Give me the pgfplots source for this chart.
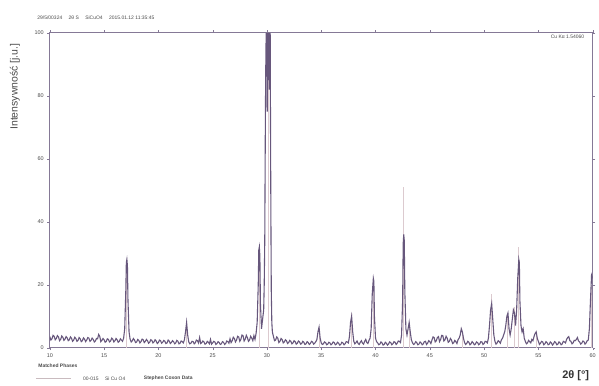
\documentclass[border=0pt]{standalone}
\usepackage{pgfplots}
\pgfplotsset{compat=1.18}
\usepackage{fontspec}
\setmainfont{Liberation Sans}
\definecolor{xrd}{HTML}{67577C}
\definecolor{stick}{HTML}{DCCACF}
\definecolor{txt}{HTML}{4A4A4A}
\begin{document}
\begin{tikzpicture}[x=1pt,y=1pt]
\path (0,0) rectangle (599,387);
\begin{axis}[
  at={(50pt,38pt)}, anchor=south west,
  scale only axis, width=545pt, height=316pt,
  xmin=10, xmax=60, ymin=0, ymax=100,
  xtick={10,15,...,60}, ytick={0,20,...,100},
  tick align=outside, major tick length=2.5pt,
  axis line style={xrd!80, line width=0.8pt},
  tick style={xrd!80},
  /pgf/number format/assume math mode=true,
  ticklabel style={font=\fontsize{5.5}{6}\selectfont, text=txt},
  clip=true,
]
\addplot[ycomb, stick, line width=1pt, forget plot] coordinates {
(17.1,27) (22.6,7) (29.3,30) (30.1,100) (30.15,100) (34.8,5) (37.8,11) (39.8,21)
(42.6,51) (43.1,8) (48.0,5) (50.7,17) (52.2,10) (52.8,13) (53.2,32) (54.8,5) (59.9,20)
};
\addplot[xrd, line width=1.1pt] coordinates {
(10.0,3.5) (10.1,2.4) (10.2,2.8) (10.3,3.9) (10.4,3.6) (10.5,2.5) (10.6,2.9) (10.7,3.8) (10.8,3.4) (10.9,2.2)
(11.0,2.6) (11.1,3.7) (11.2,3.3) (11.3,2.3) (11.4,2.7) (11.5,3.5) (11.6,3.1) (11.7,2.2) (11.8,2.5) (11.9,3.4)
(12.0,3.0) (12.1,2.0) (12.2,2.4) (12.3,3.3) (12.4,2.9) (12.5,2.0) (12.6,2.3) (12.7,3.2) (12.8,2.8) (12.9,1.9)
(13.0,2.2) (13.1,3.1) (13.2,2.7) (13.3,1.9) (13.4,2.4) (13.5,3.2) (13.6,3.0) (13.7,2.0) (13.8,2.3) (13.9,3.0)
(14.0,2.6) (14.1,1.8) (14.2,2.1) (14.3,2.9) (14.4,2.8) (14.5,4.2) (14.6,3.6) (14.7,1.9) (14.8,2.3) (14.9,2.9)
(15.0,2.5) (15.1,1.7) (15.2,2.0) (15.3,2.8) (15.4,2.6) (15.5,1.8) (15.6,2.1) (15.7,3.0) (15.8,2.7) (15.9,1.8)
(16.0,2.2) (16.1,2.9) (16.2,2.5) (16.3,1.7) (16.4,2.0) (16.5,2.8) (16.6,2.4) (16.7,2.0) (16.8,3.0)
(16.9,6) (17.0,18) (17.05,27) (17.1,28) (17.15,26) (17.2,15) (17.3,5)
(17.4,2.6) (17.5,1.8) (17.6,2.2) (17.7,2.9) (17.8,2.4) (17.9,1.6) (18.0,1.8) (18.1,2.6) (18.2,2.3) (18.3,1.5)
(18.4,1.9) (18.5,2.7) (18.6,2.5) (18.7,1.6) (18.8,2.0) (18.9,2.6) (19.0,2.2) (19.1,1.4) (19.2,1.7) (19.3,2.5)
(19.4,2.3) (19.5,1.5) (19.6,1.8) (19.7,2.5) (19.8,2.1) (19.9,1.3) (20.0,1.6) (20.1,2.4) (20.2,2.2) (20.3,1.4)
(20.4,1.7) (20.5,2.3) (20.6,2.0) (20.7,1.3) (20.8,1.5) (20.9,2.4) (21.0,2.1) (21.1,1.3) (21.2,1.6) (21.3,2.2)
(21.4,1.9) (21.5,1.2) (21.6,1.5) (21.7,2.3) (21.8,2.0) (21.9,1.2) (22.0,1.4) (22.1,2.1) (22.2,1.9) (22.3,1.5)
(22.4,2.5) (22.5,5) (22.6,8) (22.7,4) (22.8,1.8) (22.9,1.2)
(23.0,1.4) (23.1,2.0) (23.2,1.9) (23.3,1.2) (23.4,1.5) (23.5,2.4) (23.6,2.2) (23.7,1.5) (23.8,3.2) (23.9,1.3)
(24.0,1.6) (24.1,2.1) (24.2,1.8) (24.3,1.1) (24.4,1.3) (24.5,2.0) (24.6,1.7) (24.7,1.2) (24.8,2.6) (24.9,1.1)
(25.0,1.5) (25.1,2.0) (25.2,1.8) (25.3,1.0) (25.4,1.3) (25.5,1.9) (25.6,1.6) (25.7,1.0) (25.8,1.2) (25.9,1.9)
(26.0,1.7) (26.1,1.0) (26.2,1.3) (26.3,2.1) (26.4,1.9) (26.5,1.4) (26.6,2.8) (26.7,1.6) (26.8,2.2) (26.9,3.3)
(27.0,2.9) (27.1,1.8) (27.2,2.4) (27.3,3.6) (27.4,3.4) (27.5,2.0) (27.6,2.6) (27.7,4.0) (27.8,3.8) (27.9,2.1)
(28.0,2.7) (28.1,3.9) (28.2,3.2) (28.3,2.0) (28.4,2.4) (28.5,3.6) (28.6,3.0) (28.7,2.2) (28.8,3.8) (28.9,2.6)
(29.0,4.5) (29.1,8) (29.2,20) (29.25,31) (29.3,32) (29.35,29) (29.4,14) (29.5,6) (29.6,9) (29.7,12)
(29.75,20) (29.8,34) (29.83,55) (29.86,75) (29.9,92) (29.93,100) (29.96,88) (30.0,100) (30.03,75) (30.06,100)
(30.09,85) (30.12,100) (30.15,90) (30.18,100) (30.21,82) (30.24,100) (30.27,94) (30.3,100) (30.33,70) (30.36,45)
(30.4,18) (30.45,8) (30.5,5)
(30.6,3.5) (30.7,2.2) (30.8,2.4) (30.9,3.4) (31.0,3.0) (31.1,1.6) (31.2,2.0) (31.3,2.9) (31.4,2.6) (31.5,1.5)
(31.6,1.8) (31.7,2.5) (31.8,2.2) (31.9,1.3) (32.0,1.6) (32.1,2.3) (32.2,2.0) (32.3,1.2) (32.4,1.5) (32.5,2.2)
(32.6,1.9) (32.7,1.1) (32.8,1.4) (32.9,2.1) (33.0,1.8) (33.1,1.1) (33.2,1.3) (33.3,2.0) (33.4,1.7) (33.5,1.0)
(33.6,1.2) (33.7,1.9) (33.8,1.6) (33.9,1.0) (34.0,1.3) (34.1,2.0) (34.2,1.8) (34.3,1.1) (34.4,1.4) (34.5,1.9)
(34.6,2.5) (34.7,5) (34.8,6.5) (34.9,3)
(35.0,1.5) (35.1,1.0) (35.2,1.2) (35.3,1.8) (35.4,1.6) (35.5,0.9) (35.6,1.1) (35.7,1.7) (35.8,1.5) (35.9,0.9)
(36.0,1.2) (36.1,1.8) (36.2,1.6) (36.3,0.9) (36.4,1.1) (36.5,1.7) (36.6,1.4) (36.7,0.8) (36.8,1.0) (36.9,1.7)
(37.0,1.5) (37.1,0.9) (37.2,1.2) (37.3,1.9) (37.4,1.8) (37.5,1.5) (37.6,3.5) (37.7,8) (37.8,10) (37.9,5)
(38.0,2) (38.1,1.2) (38.2,1.6) (38.3,2.1) (38.4,1.3) (38.5,1.0) (38.6,1.7) (38.7,2.2) (38.8,1.4) (38.9,1.1)
(39.0,2.0) (39.1,2.6) (39.2,1.6) (39.3,1.3) (39.4,2.3) (39.5,3) (39.6,6) (39.7,17) (39.8,22) (39.85,21)
(39.9,10) (40.0,3) (40.1,1.9) (40.2,1.5) (40.3,0.9) (40.4,1.1) (40.5,1.8) (40.6,1.5) (40.7,0.8) (40.8,1.0)
(40.9,1.7) (41.0,1.4) (41.1,0.8) (41.2,1.1) (41.3,1.8) (41.4,1.6) (41.5,0.9) (41.6,1.2) (41.7,1.9) (41.8,1.7)
(41.9,1.0) (42.0,1.4) (42.1,2.1) (42.2,2.0) (42.3,1.6) (42.4,4) (42.5,15) (42.55,33) (42.6,36) (42.65,34)
(42.7,18) (42.8,6) (42.9,4) (43.0,6) (43.1,8) (43.2,5) (43.3,2.5) (43.4,1.6) (43.5,1.0) (43.6,1.2)
(43.7,1.9) (43.8,1.6) (43.9,0.9) (44.0,1.1) (44.1,1.8) (44.2,1.5) (44.3,0.9) (44.4,1.2) (44.5,1.9) (44.6,2.0)
(44.7,1.0) (44.8,1.4) (44.9,2.2) (45.0,1.9) (45.1,1.3) (45.2,2.4) (45.3,3.4) (45.4,3.2) (45.5,1.8) (45.6,2.2)
(45.7,3.2) (45.8,3.5) (45.9,1.9) (46.0,2.6) (46.1,3.9) (46.2,3.8) (46.3,2.1) (46.4,2.5) (46.5,3.6) (46.6,3.0)
(46.7,1.7) (46.8,2.0) (46.9,2.9) (47.0,2.4) (47.1,1.3) (47.2,1.5) (47.3,2.3) (47.4,1.9) (47.5,1.3) (47.6,2.5)
(47.7,3.0) (47.8,4) (47.9,6) (48.0,5) (48.1,3) (48.2,1.6) (48.3,1.0) (48.4,1.3) (48.5,2.0) (48.6,1.7)
(48.7,0.9) (48.8,1.2) (48.9,1.9) (49.0,1.5) (49.1,0.9) (49.2,1.1) (49.3,1.8) (49.4,1.6) (49.5,0.9) (49.6,1.2)
(49.7,1.9) (49.8,1.8) (49.9,1.0) (50.0,1.3) (50.1,2.0) (50.2,1.9) (50.3,1.5) (50.4,3) (50.5,7) (50.6,12)
(50.7,14) (50.8,9) (50.9,4) (51.0,2) (51.1,1.1) (51.2,1.5) (51.3,2.2) (51.4,1.9) (51.5,1.4) (51.6,2.5)
(51.7,3.0) (51.8,4) (51.9,5) (52.0,7) (52.1,10) (52.2,11) (52.3,6) (52.4,4) (52.5,6) (52.6,9)
(52.7,12) (52.8,11) (52.9,7) (53.0,12) (53.1,22) (53.2,28) (53.25,27) (53.3,15) (53.4,7) (53.5,5)
(53.6,6) (53.7,3) (53.8,2) (53.9,1.2) (54.0,1.5) (54.1,2.3) (54.2,1.9) (54.3,1.5) (54.4,2.6) (54.5,2.2)
(54.6,3.5) (54.7,4.5) (54.8,5) (54.9,3) (55.0,2) (55.1,1.0) (55.2,1.4) (55.3,2.0) (55.4,1.8) (55.5,0.9)
(55.6,1.2) (55.7,1.9) (55.8,1.6) (55.9,0.9) (56.0,1.1) (56.1,1.8) (56.2,1.5) (56.3,0.8) (56.4,1.2) (56.5,1.9)
(56.6,1.6) (56.7,0.9) (56.8,1.1) (56.9,1.8) (57.0,1.5) (57.1,0.9) (57.2,1.2) (57.3,2.0) (57.4,1.8) (57.5,1.5)
(57.6,2.6) (57.7,3.2) (57.8,3.5) (57.9,2.2) (58.0,2.0) (58.1,1.2) (58.2,1.5) (58.3,2.3) (58.4,2.2) (58.5,2.6)
(58.6,3.2) (58.7,2.1) (58.8,1.8) (58.9,1.1) (59.0,1.4) (59.1,2.1) (59.2,1.9) (59.3,1.1) (59.4,1.5) (59.5,2.2)
(59.6,2.4) (59.7,6) (59.8,15) (59.9,23) (60.0,22)
};
\end{axis}
% texts
\node[anchor=west, text=txt, font=\fontsize{5}{6}\selectfont] at (34,369) {29/5/00324 \quad 2θ S \quad SiCuO4 \quad 2015.01.12 11:35:45};
\node[anchor=east, text=txt, font=\fontsize{5}{6}\selectfont] at (590,350) {Cu Kα 1.54060};
\node[rotate=90, text=txt, font=\fontsize{10.5}{12}\selectfont] at (15,300) {Intensywność [j.u.]};
\node[anchor=east, text=black!80, font=\bfseries\fontsize{11}{13}\selectfont] at (595,10) {2θ [°]};
\node[anchor=west, text=txt, font=\bfseries\fontsize{5}{6}\selectfont] at (35,20) {Matched Phases};
\draw[stick!80!gray, line width=0.6pt] (36,7) -- (71,7);
\node[anchor=west, text=txt, font=\fontsize{5}{6}\selectfont] at (80,7) {00-015 \quad Si Cu O4};
\node[anchor=west, text=txt, font=\bfseries\fontsize{5}{6}\selectfont] at (141,7) {Stephen Coxon Data};
\end{tikzpicture}
\end{document}
